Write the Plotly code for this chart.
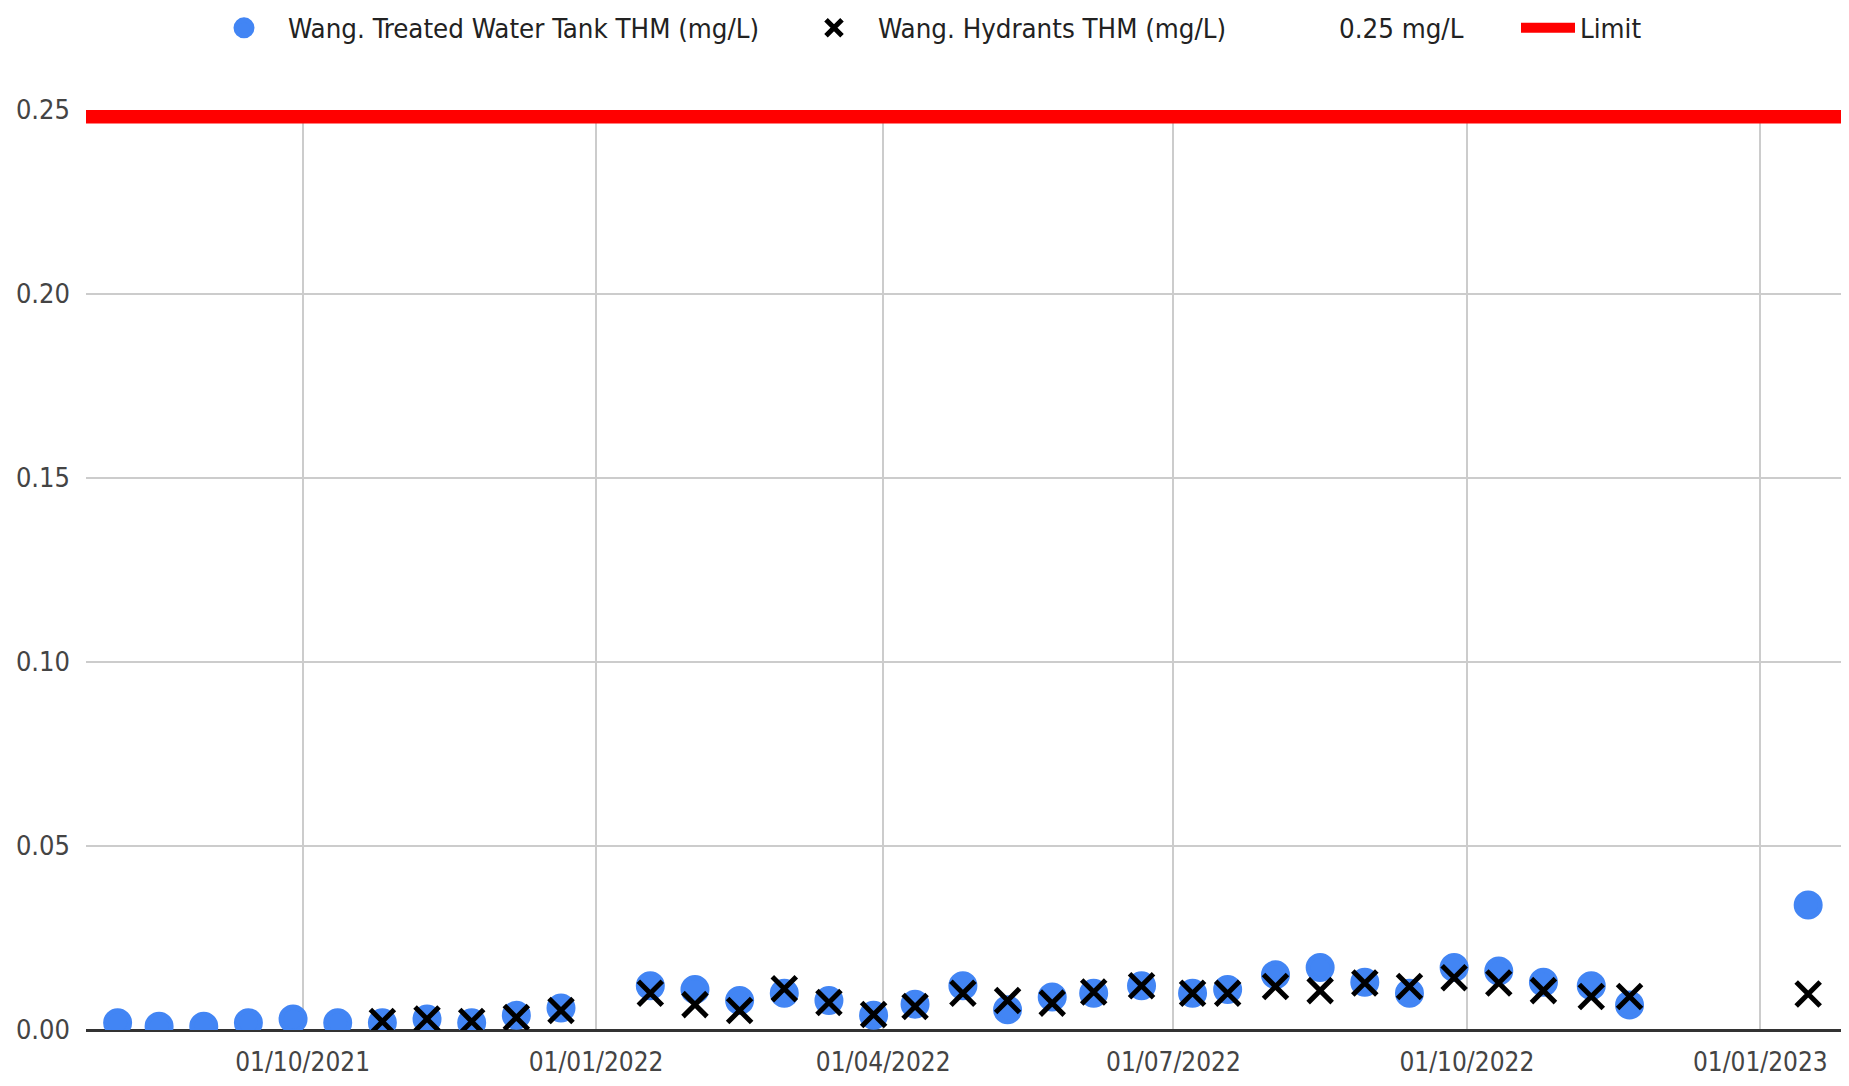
import plotly.graph_objects as go

# ---- data ----
dates = ["2021-08-04", "2021-08-17", "2021-08-31", "2021-09-14", "2021-09-28", "2021-10-12",
         "2021-10-26", "2021-11-09", "2021-11-23", "2021-12-07", "2021-12-21", "2022-01-18",
         "2022-02-01", "2022-02-15", "2022-03-01", "2022-03-15", "2022-03-29", "2022-04-11",
         "2022-04-26", "2022-05-10", "2022-05-24", "2022-06-06", "2022-06-21", "2022-07-07",
         "2022-07-18", "2022-08-02", "2022-08-16", "2022-08-30", "2022-09-13", "2022-09-27",
         "2022-10-11", "2022-10-25", "2022-11-09", "2022-11-21", "2023-01-16"]
tank_thm = [0.002, 0.001, 0.001, 0.002, 0.003, 0.002, 0.002, 0.003, 0.002, 0.004, 0.006, 0.012,
            0.011, 0.008, 0.010, 0.008, 0.004, 0.007, 0.012, 0.0055, 0.009, 0.010, 0.012, 0.010,
            0.011, 0.015, 0.017, 0.013, 0.010, 0.017, 0.016, 0.013, 0.012, 0.0068, 0.034]
hydrant_thm = [None, None, None, None, None, None, 0.0023, 0.003, 0.0023, 0.0034, 0.0053, 0.010,
               0.0069, 0.0053, 0.0112, 0.0075, 0.0042, 0.0064, 0.010, 0.008, 0.0073, 0.0103, 0.012,
               0.010, 0.010, 0.0118, 0.0107, 0.0128, 0.0118, 0.0142, 0.0128, 0.0107, 0.0091, 0.0091,
               0.0098]
x_range = ["2021-07-25 02:00", "2023-01-26 07:00"]
limit_value = [0.25, 0.25]
y_ticks = [0.00, 0.05, 0.10, 0.15, 0.20, 0.25]
y_tick_labels = ["0.00", "0.05", "0.10", "0.15", "0.20", "0.25"]

FONT = "DejaVu Sans Condensed, Liberation Sans Narrow, sans-serif"

fig = go.Figure()
fig.add_trace(go.Scatter(
    x=dates, y=tank_thm, mode="markers", name="Wang. Treated Water Tank THM (mg/L)",
    marker=dict(color="#4285f4", size=24, line=dict(width=5, color="#4285f4")),
    legend="legend", showlegend=True))
fig.add_trace(go.Scatter(
    x=dates, y=hydrant_thm, mode="markers", name="Wang. Hydrants THM (mg/L)",
    marker=dict(color="#000000", size=24, symbol="x-thin", line=dict(width=5, color="#000000")),
    legend="legend2", showlegend=True))
fig.add_trace(go.Scatter(
    x=[None], y=[None], mode="markers", name="0.25 mg/L",
    marker=dict(color="rgba(0,0,0,0)", size=10), legend="legend3", showlegend=True))
fig.add_trace(go.Scatter(
    x=x_range, y=limit_value, mode="lines", name="Limit",
    line=dict(color="#ff0000", width=27), legend="legend4", showlegend=True))

# page has an 8px body margin: size the figure so it fits the 1849x1086 window
W, H = 1833, 1070
L, R, T, B = 78, 0, 102, 48
pw = W - L - R
ph = H - T - B


def lx(px):
    return (px - L) / pw


ly = (H - B - 20) / ph
leg_common = dict(orientation="h", yanchor="middle", xanchor="left", y=ly,
                  font=dict(family=FONT, size=27.4, color="#222222"),
                  bgcolor="rgba(0,0,0,0)", itemclick=False, itemdoubleclick=False)

fig.update_layout(
    width=W, height=H, showlegend=True,
    margin=dict(l=L, r=R, t=T, b=B, autoexpand=False),
    paper_bgcolor="white", plot_bgcolor="white",
    font=dict(family=FONT, size=26, color="#444444"),
    legend=dict(x=lx(192), itemwidth=78, **leg_common),
    legend2=dict(x=lx(782), itemwidth=78, **leg_common),
    legend3=dict(x=lx(1243), itemwidth=78, **leg_common),
    legend4=dict(x=lx(1508), itemwidth=54, **leg_common),
    xaxis=dict(
        type="date", range=x_range, tick0="2021-10-01", dtick="M3", tickformat="%d/%m/%Y",
        showgrid=True, gridcolor="#cccccc", gridwidth=2,
        showline=False, zeroline=False, ticks="",
        tickfont=dict(family=FONT, size=26, color="#444444"),
        ticklabelstandoff=14,
    ),
    yaxis=dict(
        range=[0, 0.25], tickvals=y_ticks, ticktext=y_tick_labels,
        showgrid=True, gridcolor="#cccccc", gridwidth=2,
        zeroline=True, zerolinecolor="#333333", zerolinewidth=3,
        showline=False, ticks="",
        tickfont=dict(family=FONT, size=27, color="#444444"),
        ticklabelstandoff=15,
    ),
)

fig.write_html("out.html")
